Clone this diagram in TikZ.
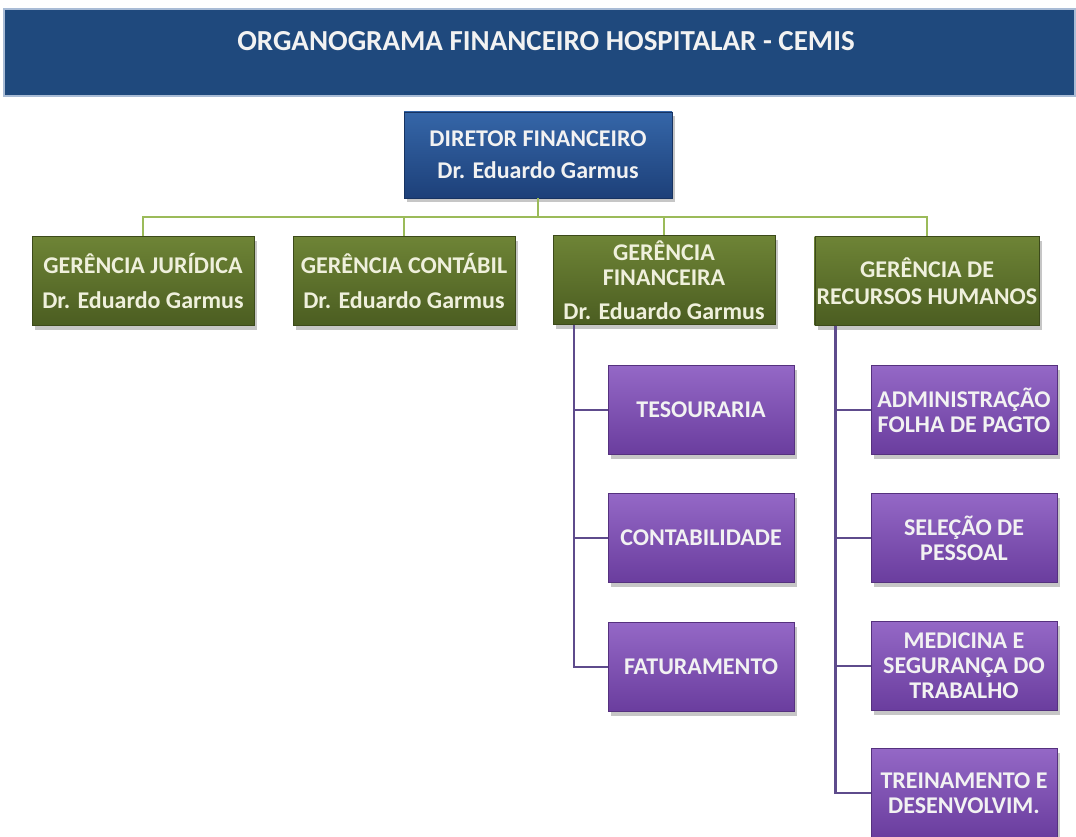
\documentclass[tikz,border=0pt]{standalone}
\usepackage{fontspec}
\setmainfont{Carlito}
\usetikzlibrary{shadows}

\definecolor{banner}{HTML}{1F497D}
\definecolor{bannerrim}{HTML}{A9BCD6}
\definecolor{dirtop}{HTML}{3566A8}
\definecolor{dirbot}{HTML}{1D4079}
\definecolor{gertop}{HTML}{6E8436}
\definecolor{gerbot}{HTML}{4B5D21}
\definecolor{roxtop}{HTML}{9468C6}
\definecolor{roxmid}{HTML}{7A4BAE}
\definecolor{roxbot}{HTML}{6A3D9E}
\definecolor{greenline}{HTML}{9BBB59}
\definecolor{purpleline}{HTML}{5E4B8C}
\definecolor{boxtext}{HTML}{F2F2F2}
\definecolor{gertext}{HTML}{EFF0DC}

\begin{document}
\begin{tikzpicture}[x=1pt,y=-1pt,
    every node/.style={font=\bfseries\fontsize{24}{25}\selectfont,text=boxtext,align=center,inner sep=2pt},
    orgbox/.style={rectangle,drop shadow={opacity=0.45,shadow xshift=3pt,shadow yshift=-4pt}},
    dirbox/.style={orgbox,top color=dirtop,bottom color=dirbot,draw=dirbot!80!black,minimum width=268,minimum height=86},
    gerbox/.style={orgbox,top color=gertop,bottom color=gerbot,draw=gerbot!80!black,text=gertext,minimum width=222,minimum height=89},
    subbox/.style={orgbox,top color=roxtop,middle color=roxmid,bottom color=roxbot,draw=roxbot!80!black,minimum width=186,minimum height=89},
    gline/.style={draw=greenline,line width=2.2pt},
    pline/.style={draw=purpleline,line width=2.2pt}]
    \useasboundingbox (0,0) rectangle (1076,837);

    % Title banner
    \fill[bannerrim] (3,8) rectangle (1076,97);
    \fill[banner] (5,10) rectangle (1074,95);
    \node (title) at (546,41) {\fontsize{29}{30}\selectfont ORGANOGRAMA FINANCEIRO HOSPITALAR - CEMIS};

    % Director
    \node[dirbox] (dir) at (538,155) {DIRETOR FINANCEIRO\\[7pt]Dr. Eduardo Garmus};

    % Managers
    \node[gerbox] (jur) at (143,281) {GERÊNCIA JURÍDICA\\[10pt]Dr. Eduardo Garmus};
    \node[gerbox] (cont) at (404,281) {GERÊNCIA CONTÁBIL\\[10pt]Dr. Eduardo Garmus};
    \node[gerbox] (fin) at (664,280) {GERÊNCIA\\FINANCEIRA\\[9pt]Dr. Eduardo Garmus};
    \node[gerbox] (rh) at (927,281) {GERÊNCIA DE\\[2pt]RECURSOS HUMANOS};

    % Finance sections
    \node[subbox] (tes) at (701,410) {TESOURARIA};
    \node[subbox] (contab) at (701,538) {CONTABILIDADE};
    \node[subbox] (fat) at (701,667) {FATURAMENTO};

    % HR sections
    \node[subbox] (adm) at (964,410) {ADMINISTRAÇÃO\\FOLHA DE PAGTO};
    \node[subbox] (sel) at (964,538) {SELEÇÃO DE\\PESSOAL};
    \node[subbox] (med) at (964,666) {MEDICINA E\\SEGURANÇA DO\\TRABALHO};
    \node[subbox] (trein) at (964,793) {TREINAMENTO E\\DESENVOLVIM.};

    % Connectors: director to managers
    \coordinate (bus) at (538,217);
    \foreach \n in {jur,cont,fin,rh}
        \draw[gline] (dir.south) -- (bus) -| (\n.north);

    % Connectors: managers to sections
    \foreach \n in {tes,contab,fat}
        \draw[pline] ([xshift=21]fin.south west) |- (\n.west);
    \foreach \n in {adm,sel,med,trein}
        \draw[pline] ([xshift=21]rh.south west) |- (\n.west);

\end{tikzpicture}
\end{document}
